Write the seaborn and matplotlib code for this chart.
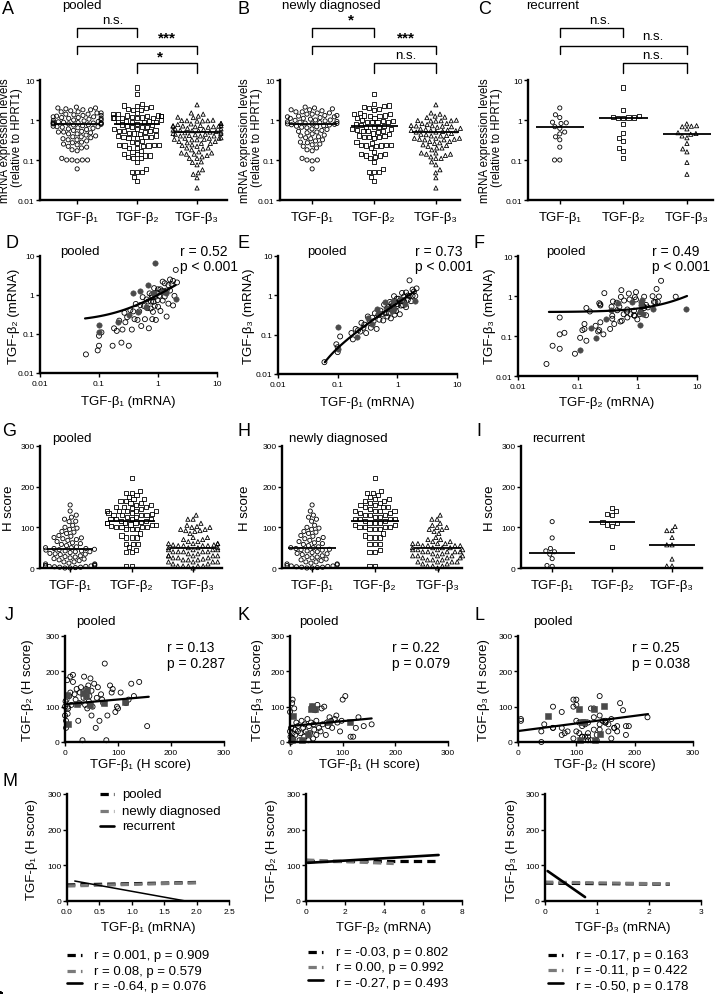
import numpy as np
import pandas as pd
import matplotlib
matplotlib.use("Agg")
import matplotlib.pyplot as plt
import matplotlib.transforms as mtrans
from matplotlib.lines import Line2D
from matplotlib.ticker import NullLocator
import seaborn as sns

# ---------------------------------------------------------------- data
CATS = ["TGF-β₁", "TGF-β₂", "TGF-β₃"]

# mRNA expression (relative to HPRT1), newly diagnosed, paired per patient
nd_mrna_b1 = [2.1, 2.0, 1.9, 1.8, 1.8, 1.7, 1.6, 1.6, 1.5, 1.5, 1.4, 1.4, 1.3, 1.3, 1.25,
              1.2, 1.2, 1.15, 1.1, 1.1, 1.05, 1.0, 1.0, 0.98, 0.95, 0.92, 0.9, 0.88, 0.86,
              0.84, 0.82, 0.8, 0.8, 0.78, 0.76, 0.75, 0.72, 0.7, 0.68, 0.66, 0.64, 0.6,
              0.58, 0.55, 0.52, 0.5, 0.48, 0.45, 0.42, 0.4, 0.38, 0.36, 0.34, 0.32, 0.3,
              0.28, 0.27, 0.25, 0.24, 0.22, 0.2, 0.18, 0.17, 0.11, 0.1, 0.1, 0.095, 0.06]
nd_mrna_b2 = [2.1, 4.4, 0.95, 2.3, 0.54, 1.9, 1.3, 2.5, 0.6, 1.8, 1.3, 0.28, 2.0, 0.91, 1.25,
              2.2, 0.72, 1.25, 0.39, 1.4, 0.95, 0.5, 1.4, 0.74, 1.14, 0.23, 0.9, 0.53, 1.5,
              0.67, 0.37, 0.88, 0.24, 1.0, 0.68, 0.45, 1.1, 0.14, 0.68, 0.46, 0.77, 0.24,
              0.52, 0.88, 0.16, 0.55, 0.38, 0.23, 0.59, 0.24, 0.38, 0.13, 0.41, 0.05, 0.27,
              0.2, 0.35, 0.13, 0.06, 0.22, 0.12, 0.14, 0.05, 0.11, 0.05, 0.09, 0.038, 0.03]
nd_mrna_b3 = [1.5, 0.96, 1.25, 0.97, 1.4, 0.71, 0.96, 2.4, 0.77, 0.99, 0.5, 1.18, 0.7, 0.94,
              0.56, 0.72, 1.15, 0.55, 0.73, 0.33, 0.82, 0.54, 0.6, 0.82, 0.4, 0.66, 0.32,
              0.95, 0.52, 0.4, 0.54, 0.43, 0.62, 0.26, 0.46, 0.68, 0.35, 0.5, 0.29, 0.44,
              0.35, 0.58, 0.23, 0.33, 0.41, 0.24, 0.32, 0.14, 0.35, 0.22, 0.27, 0.15, 0.2,
              0.29, 0.11, 0.18, 0.15, 0.2, 0.12, 0.13, 0.14, 0.076, 0.11, 0.09, 0.048,
              0.036, 0.057, 0.02]
# recurrent
rec_mrna_b1 = [2.0, 1.35, 1.15, 0.88, 0.85, 0.82, 0.68, 0.62, 0.5, 0.45, 0.38, 0.32, 0.21, 0.10, 0.10]
rec_mrna_b2 = [0.8, 1.15, 1.2, 6.5, 1.15, 1.12, 1.8, 0.48, 1.25, 0.36, 1.1, 0.3, 0.2, 0.11, 0.17]
rec_mrna_b3 = [0.7, 0.6, 0.8, 0.46, 0.72, 0.4, 0.48, 0.68, 0.36, 0.44, 0.19, 0.26, 0.087, 0.044, 0.16]

# H scores (IHC), newly diagnosed, paired per patient
nd_h_b1 = [155, 140, 130, 125, 120, 115, 105, 100, 98, 95, 90, 88, 85, 80, 78, 75, 72, 70, 68,
           65, 62, 60, 58, 55, 52, 50, 50, 48, 46, 45, 44, 42, 40, 38, 36, 35, 33, 30, 28, 27,
           25, 22, 20, 18, 15, 15, 12, 10, 10, 8, 6, 5, 5, 4, 3, 2, 2, 1, 0, 0]
nd_h_b2 = [45, 170, 130, 165, 120, 110, 140, 95, 100, 85, 150, 140, 160, 75, 5, 222, 110, 120,
           135, 60, 155, 125, 40, 165, 100, 75, 145, 180, 130, 115, 160, 95, 150, 105, 185, 125,
           5, 155, 140, 110, 60, 150, 120, 135, 190, 170, 105, 185, 140, 130, 95, 100, 80, 175,
           120, 60, 40, 115, 75, 100]
nd_h_b3 = [50, 45, 70, 40, 15, 15, 130, 120, 60, 30, 55, 75, 65, 40, 60, 70, 45, 55, 20, 100,
           50, 95, 30, 40, 105, 20, 60, 90, 35, 50, 10, 100, 55, 25, 45, 5, 65, 30, 50, 15, 40,
           60, 25, 5, 45, 30, 55, 20, 35, 95, 10, 120, 25, 110, 5, 40, 0, 15, 85, 30]
rec_h_b1 = [114, 74, 48, 42, 40, 34, 23, 6, 4]
rec_h_b2 = [113, 110, 104, 148, 131, 140, 107, 51, 132]
rec_h_b3 = [57, 57, 92, 102, 92, 22, 5, 75, 5]

# medians drawn as horizontal bars
med_mrna_pooled = [0.8, 0.8, 0.5]
med_mrna_new = [0.8, 0.7, 0.5]
med_mrna_rec = [0.65, 1.1, 0.45]
med_h_pooled = [47, 115, 50]
med_h_new = [48, 115, 50]
med_h_rec = [38, 112, 56]

# significance labels: (1 vs 2), (1 vs 3), (2 vs 3)
sig_pooled = ["n.s.", "***", "*"]
sig_new = ["*", "***", "n.s."]
sig_rec = ["n.s.", "n.s.", "n.s."]

# regression lines: intercept, slope, x start, x end
fit_D = [0.204, 0.80, 0.058, 2.0]
fit_E = [-0.02, 0.655, 0.061, 1.97]
fit_F = [0.397, 0.0887, 0.033, 6.8]
fit_J = [107, 0.133, 0, 158]
fit_K = [45, 0.14, 0, 155]
fit_L = [31, 0.215, 0, 223]

stat_D = ["r = 0.52", "p < 0.001"]
stat_E = ["r = 0.73", "p < 0.001"]
stat_F = ["r = 0.49", "p < 0.001"]
stat_J = ["r = 0.13", "p = 0.287"]
stat_K = ["r = 0.22", "p = 0.079"]
stat_L = ["r = 0.25", "p = 0.038"]

# panel M regression lines (mRNA vs H score): pooled, newly diagnosed, recurrent
M1_x = [[0.0, 2.0], [0.0, 2.0], [0.12, 1.83]]
M1_y = [[45, 52], [42, 51], [56, 0]]
M2_x = [[0.0, 6.8], [0.0, 4.5], [0.1, 6.8]]
M2_y = [[111, 111], [115, 105], [107, 129]]
M3_x = [[0.0, 2.4], [0.0, 2.4], [0.05, 0.77]]
M3_y = [[50, 47], [53, 48], [84, 11]]
M_groups = ["pooled", "newly diagnosed", "recurrent"]
M1_stats = ["r = 0.001, p = 0.909", "r = 0.08, p = 0.579", "r = -0.64, p = 0.076"]
M2_stats = ["r = -0.03, p = 0.802", "r = 0.00, p = 0.992", "r = -0.27, p = 0.493"]
M3_stats = ["r = -0.17, p = 0.163", "r = -0.11, p = 0.422", "r = -0.50, p = 0.178"]

# ---------------------------------------------------------------- style
sns.set_style("ticks")
plt.rcParams['font.family'] = ['Liberation Sans', 'DejaVu Sans']
plt.rcParams['axes.unicode_minus'] = False

W, H = 719, 995
fig = plt.figure(figsize=(W / 100, H / 100), dpi=100)
fig.patch.set_facecolor('white')


def fx(x):
    return x / W


def fy(y):
    return 1 - y / H


def add_ax(l, t, r, b):
    return fig.add_axes([l / W, 1 - b / H, (r - l) / W, (b - t) / H])


def ftext(x, y, s, size=9.5, ha='left', va='center', **kw):
    fig.text(fx(x), fy(y), s, size=size, ha=ha, va=va, color='black', **kw)


def style(ax, xsize=6, ysize=6, xpad=2, ypad=1):
    sns.despine(ax=ax)
    for s in ('left', 'bottom'):
        ax.spines[s].set_linewidth(1.7)
        ax.spines[s].set_color('black')
    ax.tick_params(axis='both', which='major', direction='out', length=3,
                   width=1.0, color='black', labelcolor='black')
    ax.tick_params(axis='x', labelsize=xsize, pad=xpad)
    ax.tick_params(axis='y', labelsize=ysize, pad=ypad)
    ax.xaxis.set_minor_locator(NullLocator())
    ax.yaxis.set_minor_locator(NullLocator())
    ax.set_xlabel('')
    ax.set_ylabel('')
    ax.patch.set_alpha(0)


MARKERS = ['o', 's', '^']
LOG_TICKS = [0.01, 0.1, 1, 10]
LOG_LABELS = ['0.01', '0.1', '1', '10']
H_TICKS = [0, 100, 200, 300]
H_LABELS = ['0', '100', '200', '300']


def dot_panel(ax, groups, medians, log, xlim):
    if log:
        ax.set_yscale('log')
        ax.set_ylim(0.01, 10)
    else:
        ax.set_ylim(0, 300)
    ax.set_xlim(*xlim)
    for cat, vals, mk in zip(CATS, groups, MARKERS):
        df = pd.DataFrame({'grp': [cat] * len(vals), 'val': vals})
        sns.swarmplot(data=df, x='grp', y='val', order=CATS, marker=mk, size=3.0,
                      color='black', linewidth=0.6, ax=ax, warn_thresh=1.0)
    for c in ax.collections:
        c.set_facecolor('none')
        c.set_edgecolor('black')
        c.set_linewidth(0.6)
        c.set_clip_on(False)
    ax.hlines(medians, np.arange(3) - 0.38, np.arange(3) + 0.38,
              color='black', lw=1.3, zorder=6)
    ax.set_xlim(*xlim)
    ax.set_xticks(range(3))
    ax.set_xticklabels(CATS)
    if log:
        ax.set_yticks(LOG_TICKS)
        ax.set_yticklabels(LOG_LABELS)
    else:
        ax.set_yticks(H_TICKS)
        ax.set_yticklabels(H_LABELS)
    style(ax, xsize=9.5, xpad=5)


BRACKET_SPEC = [(0, 1, 29, 38), (0, 2, 47, 55), (1, 2, 64, 74)]


def brackets(ax, labels, label_pos):
    tr = mtrans.blended_transform_factory(ax.transData, fig.transFigure)
    for (x0, x1, yt, yb) in BRACKET_SPEC:
        fig.add_artist(Line2D([x0, x0, x1, x1], [fy(yb), fy(yt), fy(yt), fy(yb)],
                              transform=tr, color='black', lw=1.0))
    for lab, (x, y) in zip(labels, label_pos):
        sz = 11 if '*' in lab and 'n' not in lab else 9.5
        fig.text(x, fy(y), lab, transform=tr, ha='center', va='center', size=sz,
                 weight='bold' if '*' in lab else 'normal', color='black')


def scatter_panel(ax, xo, yo, xf, yf, fmarker, fit, log):
    if log:
        ax.set_xscale('log')
        ax.set_yscale('log')
        ax.set_xlim(0.01, 10)
        ax.set_ylim(0.01, 10)
    else:
        ax.set_xlim(0, 300)
        ax.set_ylim(0, 300)
    sns.scatterplot(x=xo, y=yo, ax=ax, marker='o', s=13, color='black',
                    linewidth=0.6, legend=False)
    c = ax.collections[-1]
    c.set_facecolor('none')
    c.set_edgecolor('black')
    c.set_clip_on(False)
    sns.scatterplot(x=xf, y=yf, ax=ax, marker=fmarker, s=15, color='#4a4a4a',
                    edgecolor='#4a4a4a', linewidth=0.4, legend=False)
    ax.collections[-1].set_clip_on(False)
    a, b, x0, x1 = fit
    xs = np.geomspace(x0, x1, 80) if log else np.array([x0, x1], dtype=float)
    ax.plot(xs, a + b * xs, color='black', lw=1.6, zorder=5)
    if log:
        ax.set_xticks(LOG_TICKS)
        ax.set_xticklabels(LOG_LABELS)
        ax.set_yticks(LOG_TICKS)
        ax.set_yticklabels(LOG_LABELS)
    else:
        ax.set_xticks(H_TICKS)
        ax.set_xticklabels(H_LABELS)
        ax.set_yticks(H_TICKS)
        ax.set_yticklabels(H_LABELS)
    style(ax)


M_STYLES = [dict(color='black', lw=2.3, dashes=(2.6, 1.6)),
            dict(color='#7a7a7a', lw=2.3, dashes=(2.6, 1.6)),
            dict(color='black', lw=1.9)]


def m_panel(ax, xs_list, ys_list, xlim, xticks, xlabels, thin_last=False):
    ax.set_xlim(*xlim)
    ax.set_ylim(0, 300)
    for i, (xs, ys, st) in enumerate(zip(xs_list, ys_list, M_STYLES)):
        st = dict(st)
        if i == 2 and thin_last:
            st['lw'] = 1.1
        ax.plot(xs, ys, **st)
    ax.set_xticks(xticks)
    ax.set_xticklabels(xlabels)
    ax.set_yticks(H_TICKS)
    ax.set_yticklabels(H_LABELS)
    style(ax)


pooled_mrna = [nd_mrna_b1 + rec_mrna_b1, nd_mrna_b2 + rec_mrna_b2, nd_mrna_b3 + rec_mrna_b3]
new_mrna = [nd_mrna_b1, nd_mrna_b2, nd_mrna_b3]
rec_mrna = [rec_mrna_b1, rec_mrna_b2, rec_mrna_b3]
pooled_h = [nd_h_b1 + rec_h_b1, nd_h_b2 + rec_h_b2, nd_h_b3 + rec_h_b3]
new_h = [nd_h_b1, nd_h_b2, nd_h_b3]
rec_h = [rec_h_b1, rec_h_b2, rec_h_b3]

# ---------------------------------------------------------------- row 1: A, B, C
axA = add_ax(40, 81, 227, 201)
dot_panel(axA, pooled_mrna, med_mrna_pooled, True, (-0.62, 2.5))
brackets(axA, sig_pooled, [(0.6, 21), (1.5, 38), (1.38, 57)])
axB = add_ax(280, 81, 460, 201)
dot_panel(axB, new_mrna, med_mrna_new, True, (-0.52, 2.39))
brackets(axB, sig_new, [(0.63, 20), (1.52, 38), (1.52, 56)])
axC = add_ax(528, 81, 713, 201)
dot_panel(axC, rec_mrna, med_mrna_rec, True, (-0.5, 2.41))
brackets(axC, sig_rec, [(0.63, 21), (1.46, 37), (1.46, 56)])

ftext(8, 9, "A", size=13, ha='center')
ftext(244, 9, "B", size=13, ha='center')
ftext(485, 9, "C", size=13, ha='center')
ftext(82, 6, "pooled", ha='center')
ftext(331, 6, "newly diagnosed", ha='center')
ftext(553, 6, "recurrent", ha='center')
for x1, x2 in [(5, 17), (245, 257), (485, 497)]:
    ftext(x1, 141, "mRNA expression levels", size=8.3, ha='center', rotation=90)
    ftext(x2, 138, "(relative to HPRT1)", size=8.3, ha='center', rotation=90)

# ---------------------------------------------------------------- row 2: D, E, F
axD = add_ax(40, 257, 217, 374)
scatter_panel(axD, nd_mrna_b1, nd_mrna_b2, rec_mrna_b1, rec_mrna_b2, 'o', fit_D, True)
axE = add_ax(278, 257, 457, 375)
scatter_panel(axE, nd_mrna_b1, nd_mrna_b3, rec_mrna_b1, rec_mrna_b3, 'o', fit_E, True)
axF = add_ax(518, 257, 697, 377)
scatter_panel(axF, nd_mrna_b2, nd_mrna_b3, rec_mrna_b2, rec_mrna_b3, 'o', fit_F, True)

for letter, lx, tx, sx, stat, ylab, ylx in [
        ("D", 12, 80, 180, stat_D, "TGF-β₂ (mRNA)", 14),
        ("E", 244, 327, 415, stat_E, "TGF-β₃ (mRNA)", 249),
        ("F", 479, 566, 652, stat_F, "TGF-β₃ (mRNA)", 490)]:
    ftext(lx, 243, letter, size=13, ha='center')
    ftext(tx, 252, "pooled", ha='center')
    ftext(sx, 252, stat[0], size=10)
    ftext(sx, 267, stat[1], size=10)
    ftext(ylx, 316, ylab, ha='center', rotation=90)
ftext(128, 402, "TGF-β₁ (mRNA)", ha='center')
ftext(367, 403, "TGF-β₁ (mRNA)", ha='center')
ftext(607, 403, "TGF-β₂ (mRNA)", ha='center')

# ---------------------------------------------------------------- row 3: G, H, I
axG = add_ax(40, 447, 222, 569)
dot_panel(axG, pooled_h, med_h_pooled, False, (-0.49, 2.47))
axH = add_ax(282, 447, 462, 569)
dot_panel(axH, new_h, med_h_new, False, (-0.48, 2.39))
axI = add_ax(521, 447, 702, 569)
dot_panel(axI, rec_h, med_h_rec, False, (-0.52, 2.5))
ftext(9, 432, "G", size=13, ha='center')
ftext(244, 432, "H", size=13, ha='center')
ftext(479, 432, "I", size=13, ha='center')
ftext(72, 439, "pooled", ha='center')
ftext(289, 439, "newly diagnosed", ha='left')
ftext(532, 439, "recurrent", ha='left')
for x in (9, 245, 490):
    ftext(x, 508, "H score", ha='center', rotation=90)

# ---------------------------------------------------------------- row 4: J, K, L
axJ = add_ax(65, 637, 224, 743)
scatter_panel(axJ, nd_h_b1, nd_h_b2, rec_h_b1, rec_h_b2, 's', fit_J, False)
axK = add_ax(290, 637, 448, 743)
scatter_panel(axK, nd_h_b1, nd_h_b3, rec_h_b1, rec_h_b3, 's', fit_K, False)
axL = add_ax(518, 637, 693, 743)
scatter_panel(axL, nd_h_b2, nd_h_b3, rec_h_b2, rec_h_b3, 's', fit_L, False)
for letter, lx, tx, sx, stat, ylab, ylx, xlab, xc in [
        ("J", 9, 96, 167, stat_J, "TGF-β₂ (H score)", 28, "TGF-β₁ (H score)", 140),
        ("K", 244, 319, 392, stat_K, "TGF-β₃ (H score)", 258, "TGF-β₁ (H score)", 369),
        ("L", 479, 553, 632, stat_L, "TGF-β₃ (H score)", 484, "TGF-β₂ (H score)", 605)]:
    ftext(lx, 615, letter, size=13, ha='center')
    ftext(tx, 622, "pooled", ha='center')
    ftext(sx, 648, stat[0], size=10)
    ftext(sx, 664, stat[1], size=10)
    ftext(ylx, 690, ylab, ha='center', rotation=90)
    ftext(xc, 765, xlab, ha='center')

# ---------------------------------------------------------------- row 5: M
axM1 = add_ax(67, 795, 229, 902)
m_panel(axM1, M1_x, M1_y, (0, 2.5), [0, 0.5, 1.0, 1.5, 2.0, 2.5],
        ['0.0', '0.5', '1.0', '1.5', '2.0', '2.5'], thin_last=True)
axM2 = add_ax(306, 795, 462, 902)
m_panel(axM2, M2_x, M2_y, (0, 8), [0, 2, 4, 6, 8], ['0', '2', '4', '6', '8'])
axM3 = add_ax(545, 795, 701, 902)
m_panel(axM3, M3_x, M3_y, (0, 3), [0, 1, 2, 3], ['0', '1', '2', '3'])
ftext(10, 782, "M", size=13, ha='center')


def legend_line(x0, x1, y, st):
    st = dict(st)
    fig.add_artist(Line2D([fx(x0), fx(x1)], [fy(y), fy(y)], transform=fig.transFigure, **st))


for (yy, name, st) in zip([795, 812, 827], M_groups, M_STYLES):
    legend_line(100, 114, yy, st)
    ftext(122, yy, name, size=9.5)

for i, (lx, tx, stats, ys, ylab, xlab, ylx, xc) in enumerate([
        (67, 94, M1_stats, [956, 972, 987], "TGF-β₁ (H score)", "TGF-β₁ (mRNA)", 32, 148),
        (308, 336, M2_stats, [953, 968, 984], "TGF-β₂ (H score)", "TGF-β₂ (mRNA)", 272, 384),
        (548, 576, M3_stats, [956, 971, 987], "TGF-β₃ (H score)", "TGF-β₃ (mRNA)", 512, 623)]):
    for j, (yy, s, st) in enumerate(zip(ys, stats, M_STYLES)):
        ly = yy - 3 if j == 2 else yy
        legend_line(lx, lx + 15, ly, st)
        ftext(tx, yy, s, size=9.5)
    ftext(ylx, 850, ylab, ha='center', rotation=90)
    ftext(xc, 928, xlab, ha='center')

fig.savefig("out.png", dpi=100, facecolor='white')
